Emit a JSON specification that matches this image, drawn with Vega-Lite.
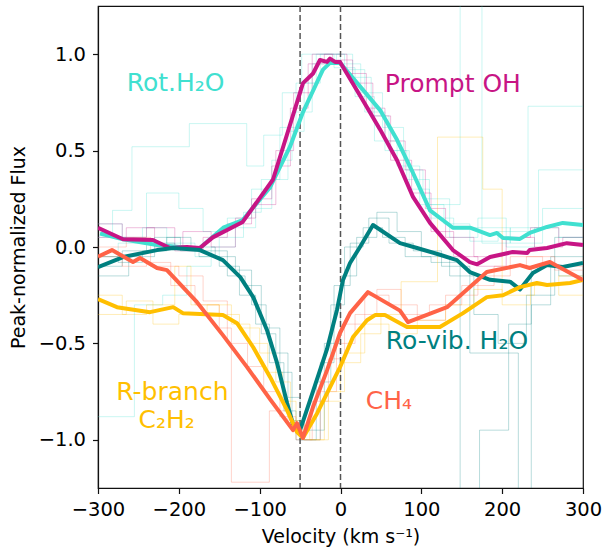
{
  "$schema": "https://vega.github.io/schema/vega-lite/v6.json",
  "width": 485,
  "height": 482,
  "autosize": {"type": "none"},
  "padding": {"left": 98, "top": 6, "right": 20, "bottom": 64},
  "config": {
    "font": "DejaVu Sans",
    "view": {"stroke": "#111111", "strokeWidth": 1.2},
    "axis": {
      "grid": false,
      "labelFont": "DejaVu Sans",
      "labelFontSize": 19.5,
      "labelColor": "#000000",
      "labelFlush": false,
      "labelOverlap": false,
      "titleFont": "DejaVu Sans",
      "titleFontSize": 19,
      "titleFontWeight": "normal",
      "titleColor": "#000000",
      "tickColor": "#111111",
      "tickSize": 5.5,
      "tickWidth": 1.2,
      "domainColor": "#111111",
      "domainWidth": 1.2
    }
  },
  "datasets": {
    "bold": [
      {"g": "rot", "v": -297.5, "f": 0.07},
      {"g": "rot", "v": -269, "f": 0.04},
      {"g": "rot", "v": -227, "f": 0.01},
      {"g": "rot", "v": -186, "f": -0.005},
      {"g": "rot", "v": -174, "f": -0.005},
      {"g": "rot", "v": -145, "f": 0.10},
      {"g": "rot", "v": -121, "f": 0.14},
      {"g": "rot", "v": -87, "f": 0.31},
      {"g": "rot", "v": -62.5, "f": 0.52},
      {"g": "rot", "v": -46.4, "f": 0.70},
      {"g": "rot", "v": -21.7, "f": 0.92},
      {"g": "rot", "v": -13, "f": 0.955},
      {"g": "rot", "v": -0.6, "f": 0.955},
      {"g": "rot", "v": 27.8, "f": 0.815},
      {"g": "rot", "v": 48.9, "f": 0.71},
      {"g": "rot", "v": 69.9, "f": 0.556},
      {"g": "rot", "v": 89.7, "f": 0.384},
      {"g": "rot", "v": 110.7, "f": 0.19},
      {"g": "rot", "v": 139, "f": 0.10},
      {"g": "rot", "v": 160.2, "f": 0.10},
      {"g": "rot", "v": 184.9, "f": 0.062},
      {"g": "rot", "v": 193.6, "f": 0.073},
      {"g": "rot", "v": 201, "f": 0.047},
      {"g": "rot", "v": 222, "f": 0.042},
      {"g": "rot", "v": 234, "f": 0.073},
      {"g": "rot", "v": 255.5, "f": 0.104},
      {"g": "rot", "v": 275, "f": 0.125},
      {"g": "rot", "v": 300, "f": 0.114},
      {"g": "oh", "v": -300, "f": 0.10},
      {"g": "oh", "v": -269, "f": 0.04},
      {"g": "oh", "v": -232, "f": 0.036},
      {"g": "oh", "v": -211, "f": -0.005},
      {"g": "oh", "v": -190, "f": 0.0},
      {"g": "oh", "v": -174, "f": -0.005},
      {"g": "oh", "v": -158, "f": 0.05},
      {"g": "oh", "v": -121, "f": 0.13},
      {"g": "oh", "v": -83.5, "f": 0.35},
      {"g": "oh", "v": -46.4, "f": 0.85},
      {"g": "oh", "v": -34, "f": 0.90},
      {"g": "oh", "v": -25.4, "f": 0.97},
      {"g": "oh", "v": -16.7, "f": 0.96},
      {"g": "oh", "v": -13, "f": 0.977},
      {"g": "oh", "v": -6.8, "f": 0.96},
      {"g": "oh", "v": -0.6, "f": 0.96},
      {"g": "oh", "v": 27.8, "f": 0.76},
      {"g": "oh", "v": 48.9, "f": 0.61},
      {"g": "oh", "v": 69.9, "f": 0.45},
      {"g": "oh", "v": 89.7, "f": 0.26},
      {"g": "oh", "v": 110.7, "f": 0.125},
      {"g": "oh", "v": 139, "f": -0.016},
      {"g": "oh", "v": 160, "f": -0.078},
      {"g": "oh", "v": 169, "f": -0.09},
      {"g": "oh", "v": 185, "f": -0.052},
      {"g": "oh", "v": 213, "f": -0.026},
      {"g": "oh", "v": 231, "f": -0.031},
      {"g": "oh", "v": 234, "f": -0.016},
      {"g": "oh", "v": 255.5, "f": -0.005},
      {"g": "oh", "v": 280, "f": 0.02},
      {"g": "oh", "v": 300, "f": 0.01},
      {"g": "rovib", "v": -300, "f": -0.104},
      {"g": "rovib", "v": -269, "f": -0.052},
      {"g": "rovib", "v": -227, "f": -0.016},
      {"g": "rovib", "v": -207, "f": -0.005},
      {"g": "rovib", "v": -174, "f": -0.016},
      {"g": "rovib", "v": -145.5, "f": -0.068},
      {"g": "rovib", "v": -124, "f": -0.156},
      {"g": "rovib", "v": -108, "f": -0.26},
      {"g": "rovib", "v": -91, "f": -0.43},
      {"g": "rovib", "v": -78.6, "f": -0.60},
      {"g": "rovib", "v": -66, "f": -0.81},
      {"g": "rovib", "v": -59, "f": -0.916},
      {"g": "rovib", "v": -50, "f": -0.95},
      {"g": "rovib", "v": -37.7, "f": -0.795},
      {"g": "rovib", "v": -16.7, "f": -0.53},
      {"g": "rovib", "v": -4.3, "f": -0.325},
      {"g": "rovib", "v": 3.1, "f": -0.171},
      {"g": "rovib", "v": 11.8, "f": -0.083},
      {"g": "rovib", "v": 24.1, "f": 0.0},
      {"g": "rovib", "v": 40.2, "f": 0.114},
      {"g": "rovib", "v": 73.6, "f": 0.02},
      {"g": "rovib", "v": 94.6, "f": -0.005},
      {"g": "rovib", "v": 123, "f": -0.04},
      {"g": "rovib", "v": 144, "f": -0.068},
      {"g": "rovib", "v": 160, "f": -0.13},
      {"g": "rovib", "v": 185, "f": -0.17},
      {"g": "rovib", "v": 209.7, "f": -0.18},
      {"g": "rovib", "v": 222, "f": -0.22},
      {"g": "rovib", "v": 238, "f": -0.135},
      {"g": "rovib", "v": 255.5, "f": -0.094},
      {"g": "rovib", "v": 275, "f": -0.104},
      {"g": "rovib", "v": 300, "f": -0.083},
      {"g": "c2h2", "v": -300, "f": -0.27},
      {"g": "c2h2", "v": -276.5, "f": -0.312},
      {"g": "c2h2", "v": -235.7, "f": -0.338},
      {"g": "c2h2", "v": -207, "f": -0.312},
      {"g": "c2h2", "v": -195, "f": -0.343},
      {"g": "c2h2", "v": -145.5, "f": -0.353},
      {"g": "c2h2", "v": -128, "f": -0.395},
      {"g": "c2h2", "v": -108, "f": -0.52},
      {"g": "c2h2", "v": -87, "f": -0.675},
      {"g": "c2h2", "v": -66, "f": -0.847},
      {"g": "c2h2", "v": -53.8, "f": -0.96},
      {"g": "c2h2", "v": -46.4, "f": -0.99},
      {"g": "c2h2", "v": -29, "f": -0.863},
      {"g": "c2h2", "v": -0.6, "f": -0.623},
      {"g": "c2h2", "v": 15.5, "f": -0.467},
      {"g": "c2h2", "v": 32.8, "f": -0.38},
      {"g": "c2h2", "v": 42.7, "f": -0.353},
      {"g": "c2h2", "v": 55, "f": -0.353},
      {"g": "c2h2", "v": 73.6, "f": -0.395},
      {"g": "c2h2", "v": 82.3, "f": -0.415},
      {"g": "c2h2", "v": 123, "f": -0.415},
      {"g": "c2h2", "v": 151.6, "f": -0.343},
      {"g": "c2h2", "v": 181, "f": -0.26},
      {"g": "c2h2", "v": 201, "f": -0.25},
      {"g": "c2h2", "v": 222, "f": -0.208},
      {"g": "c2h2", "v": 243, "f": -0.187},
      {"g": "c2h2", "v": 255.5, "f": -0.197},
      {"g": "c2h2", "v": 284, "f": -0.187},
      {"g": "c2h2", "v": 300, "f": -0.171},
      {"g": "ch4", "v": -300, "f": -0.05},
      {"g": "ch4", "v": -282.7, "f": -0.016},
      {"g": "ch4", "v": -256.7, "f": -0.078},
      {"g": "ch4", "v": -248, "f": -0.057},
      {"g": "ch4", "v": -227, "f": -0.109},
      {"g": "ch4", "v": -214.7, "f": -0.12},
      {"g": "ch4", "v": -177.5, "f": -0.286},
      {"g": "ch4", "v": -145.5, "f": -0.457},
      {"g": "ch4", "v": -115.6, "f": -0.623},
      {"g": "ch4", "v": -87, "f": -0.79},
      {"g": "ch4", "v": -58.8, "f": -0.95},
      {"g": "ch4", "v": -53.8, "f": -0.914},
      {"g": "ch4", "v": -46.4, "f": -0.99},
      {"g": "ch4", "v": -34, "f": -0.83},
      {"g": "ch4", "v": -16.7, "f": -0.64},
      {"g": "ch4", "v": -0.6, "f": -0.446},
      {"g": "ch4", "v": 11.8, "f": -0.343},
      {"g": "ch4", "v": 34, "f": -0.234},
      {"g": "ch4", "v": 73.6, "f": -0.33},
      {"g": "ch4", "v": 83.5, "f": -0.39},
      {"g": "ch4", "v": 131.8, "f": -0.312},
      {"g": "ch4", "v": 181, "f": -0.13},
      {"g": "ch4", "v": 222, "f": -0.094},
      {"g": "ch4", "v": 234, "f": -0.109},
      {"g": "ch4", "v": 259, "f": -0.078},
      {"g": "ch4", "v": 300, "f": -0.171}
    ],
    "faint": [
      {"s": "T1", "g": "rot", "v": -300, "f": 0.05},
      {"s": "T1", "g": "rot", "v": -282, "f": 0.19},
      {"s": "T1", "g": "rot", "v": -258, "f": 0.52},
      {"s": "T1", "g": "rot", "v": -187, "f": 0.64},
      {"s": "T1", "g": "rot", "v": -116, "f": 0.42},
      {"s": "T1", "g": "rot", "v": -95, "f": 0.58},
      {"s": "T1", "g": "rot", "v": -72, "f": 0.80},
      {"s": "T1", "g": "rot", "v": -48, "f": 1.0},
      {"s": "T1", "g": "rot", "v": -8, "f": 0.93},
      {"s": "T1", "g": "rot", "v": 18, "f": 0.78},
      {"s": "T1", "g": "rot", "v": 42, "f": 0.55},
      {"s": "T1", "g": "rot", "v": 70, "f": 0.42},
      {"s": "T1", "g": "rot", "v": 98, "f": 0.22},
      {"s": "T1", "g": "rot", "v": 128, "f": 0.12},
      {"s": "T1", "g": "rot", "v": 160, "f": 0.03},
      {"s": "T1", "g": "rot", "v": 195, "f": 0.08},
      {"s": "T1", "g": "rot", "v": 232, "f": 0.73},
      {"s": "T1", "g": "rot", "v": 300, "f": 0.73},
      {"s": "T2", "g": "rot", "v": -300, "f": 0.12},
      {"s": "T2", "g": "rot", "v": -270, "f": 0.05},
      {"s": "T2", "g": "rot", "v": -240, "f": 0.28},
      {"s": "T2", "g": "rot", "v": -200, "f": 0.20},
      {"s": "T2", "g": "rot", "v": -170, "f": 0.08},
      {"s": "T2", "g": "rot", "v": -140, "f": 0.15},
      {"s": "T2", "g": "rot", "v": -110, "f": 0.30},
      {"s": "T2", "g": "rot", "v": -85, "f": 0.45},
      {"s": "T2", "g": "rot", "v": -60, "f": 0.70},
      {"s": "T2", "g": "rot", "v": -35, "f": 0.95},
      {"s": "T2", "g": "rot", "v": -5, "f": 1.0},
      {"s": "T2", "g": "rot", "v": 15, "f": 0.88},
      {"s": "T2", "g": "rot", "v": 38, "f": 0.68},
      {"s": "T2", "g": "rot", "v": 60, "f": 0.50},
      {"s": "T2", "g": "rot", "v": 85, "f": 0.30},
      {"s": "T2", "g": "rot", "v": 110, "f": 0.22},
      {"s": "T2", "g": "rot", "v": 148, "f": 1.3},
      {"s": "T2", "g": "rot", "v": 175, "f": 0.10},
      {"s": "T2", "g": "rot", "v": 210, "f": 0.02},
      {"s": "T2", "g": "rot", "v": 250, "f": 0.20},
      {"s": "T2", "g": "rot", "v": 300, "f": 0.20},
      {"s": "T3", "g": "rot", "v": -300, "f": -0.05},
      {"s": "T3", "g": "rot", "v": -275, "f": 0.02},
      {"s": "T3", "g": "rot", "v": -245, "f": 0.10},
      {"s": "T3", "g": "rot", "v": -215, "f": 0.02},
      {"s": "T3", "g": "rot", "v": -180, "f": -0.05},
      {"s": "T3", "g": "rot", "v": -150, "f": 0.05},
      {"s": "T3", "g": "rot", "v": -120, "f": 0.18},
      {"s": "T3", "g": "rot", "v": -98, "f": 0.35},
      {"s": "T3", "g": "rot", "v": -75, "f": 0.62},
      {"s": "T3", "g": "rot", "v": -55, "f": 0.85},
      {"s": "T3", "g": "rot", "v": -30, "f": 1.0},
      {"s": "T3", "g": "rot", "v": 0, "f": 0.95},
      {"s": "T3", "g": "rot", "v": 25, "f": 0.80},
      {"s": "T3", "g": "rot", "v": 52, "f": 0.62},
      {"s": "T3", "g": "rot", "v": 78, "f": 0.40},
      {"s": "T3", "g": "rot", "v": 102, "f": 0.25},
      {"s": "T3", "g": "rot", "v": 135, "f": 0.05},
      {"s": "T3", "g": "rot", "v": 170, "f": 0.15},
      {"s": "T3", "g": "rot", "v": 205, "f": 0.00},
      {"s": "T3", "g": "rot", "v": 240, "f": 0.10},
      {"s": "T3", "g": "rot", "v": 270, "f": 0.05},
      {"s": "T3", "g": "rot", "v": 300, "f": 0.05},
      {"s": "T4", "g": "rot", "v": -300, "f": -0.88},
      {"s": "T4", "g": "rot", "v": -255, "f": -0.30},
      {"s": "T4", "g": "rot", "v": -220, "f": -0.25},
      {"s": "T4", "g": "rot", "v": -190, "f": -0.10},
      {"s": "T4", "g": "rot", "v": -160, "f": 0.00},
      {"s": "T4", "g": "rot", "v": -130, "f": 0.10},
      {"s": "T4", "g": "rot", "v": -105, "f": 0.20},
      {"s": "T4", "g": "rot", "v": -85, "f": 0.35},
      {"s": "T4", "g": "rot", "v": -65, "f": 0.60},
      {"s": "T4", "g": "rot", "v": -45, "f": 0.85},
      {"s": "T4", "g": "rot", "v": -25, "f": 1.0},
      {"s": "T4", "g": "rot", "v": 5, "f": 0.92},
      {"s": "T4", "g": "rot", "v": 30, "f": 0.70},
      {"s": "T4", "g": "rot", "v": 55, "f": 0.50},
      {"s": "T4", "g": "rot", "v": 82, "f": 0.35},
      {"s": "T4", "g": "rot", "v": 110, "f": 0.15},
      {"s": "T4", "g": "rot", "v": 140, "f": 0.10},
      {"s": "T4", "g": "rot", "v": 175, "f": 0.02},
      {"s": "T4", "g": "rot", "v": 210, "f": 0.10},
      {"s": "T4", "g": "rot", "v": 245, "f": 0.40},
      {"s": "T4", "g": "rot", "v": 300, "f": 0.40},
      {"s": "M1", "g": "oh", "v": -300, "f": 0.12},
      {"s": "M1", "g": "oh", "v": -270, "f": 0.05},
      {"s": "M1", "g": "oh", "v": -240, "f": 0.10},
      {"s": "M1", "g": "oh", "v": -205, "f": -0.02},
      {"s": "M1", "g": "oh", "v": -170, "f": 0.05},
      {"s": "M1", "g": "oh", "v": -140, "f": 0.12},
      {"s": "M1", "g": "oh", "v": -110, "f": 0.25},
      {"s": "M1", "g": "oh", "v": -85, "f": 0.42},
      {"s": "M1", "g": "oh", "v": -62, "f": 0.72},
      {"s": "M1", "g": "oh", "v": -40, "f": 0.95},
      {"s": "M1", "g": "oh", "v": -20, "f": 1.0},
      {"s": "M1", "g": "oh", "v": 8, "f": 0.90},
      {"s": "M1", "g": "oh", "v": 32, "f": 0.72},
      {"s": "M1", "g": "oh", "v": 55, "f": 0.55},
      {"s": "M1", "g": "oh", "v": 80, "f": 0.40},
      {"s": "M1", "g": "oh", "v": 105, "f": 0.20},
      {"s": "M1", "g": "oh", "v": 130, "f": 0.05},
      {"s": "M1", "g": "oh", "v": 165, "f": -0.05},
      {"s": "M1", "g": "oh", "v": 200, "f": 0.05},
      {"s": "M1", "g": "oh", "v": 240, "f": 0.00},
      {"s": "M1", "g": "oh", "v": 275, "f": 0.05},
      {"s": "M1", "g": "oh", "v": 300, "f": 0.05},
      {"s": "M2", "g": "oh", "v": -300, "f": 0.05},
      {"s": "M2", "g": "oh", "v": -265, "f": 0.10},
      {"s": "M2", "g": "oh", "v": -230, "f": 0.00},
      {"s": "M2", "g": "oh", "v": -195, "f": 0.08},
      {"s": "M2", "g": "oh", "v": -160, "f": 0.00},
      {"s": "M2", "g": "oh", "v": -130, "f": 0.15},
      {"s": "M2", "g": "oh", "v": -105, "f": 0.22},
      {"s": "M2", "g": "oh", "v": -80, "f": 0.50},
      {"s": "M2", "g": "oh", "v": -58, "f": 0.80},
      {"s": "M2", "g": "oh", "v": -35, "f": 1.0},
      {"s": "M2", "g": "oh", "v": -10, "f": 0.97},
      {"s": "M2", "g": "oh", "v": 15, "f": 0.85},
      {"s": "M2", "g": "oh", "v": 40, "f": 0.68},
      {"s": "M2", "g": "oh", "v": 62, "f": 0.45},
      {"s": "M2", "g": "oh", "v": 88, "f": 0.28},
      {"s": "M2", "g": "oh", "v": 112, "f": 0.08},
      {"s": "M2", "g": "oh", "v": 140, "f": -0.05},
      {"s": "M2", "g": "oh", "v": 170, "f": -0.10},
      {"s": "M2", "g": "oh", "v": 205, "f": 0.05},
      {"s": "M2", "g": "oh", "v": 235, "f": 0.10},
      {"s": "M2", "g": "oh", "v": 270, "f": 0.02},
      {"s": "M2", "g": "oh", "v": 300, "f": 0.02},
      {"s": "D1", "g": "rovib", "v": -300, "f": -0.10},
      {"s": "D1", "g": "rovib", "v": -270, "f": -0.02},
      {"s": "D1", "g": "rovib", "v": -240, "f": 0.02},
      {"s": "D1", "g": "rovib", "v": -205, "f": 0.00},
      {"s": "D1", "g": "rovib", "v": -175, "f": -0.05},
      {"s": "D1", "g": "rovib", "v": -150, "f": -0.10},
      {"s": "D1", "g": "rovib", "v": -125, "f": -0.25},
      {"s": "D1", "g": "rovib", "v": -105, "f": -0.40},
      {"s": "D1", "g": "rovib", "v": -88, "f": -0.60},
      {"s": "D1", "g": "rovib", "v": -70, "f": -0.85},
      {"s": "D1", "g": "rovib", "v": -55, "f": -1.0},
      {"s": "D1", "g": "rovib", "v": -30, "f": -0.70},
      {"s": "D1", "g": "rovib", "v": -12, "f": -0.30},
      {"s": "D1", "g": "rovib", "v": 5, "f": 0.00},
      {"s": "D1", "g": "rovib", "v": 28, "f": 0.10},
      {"s": "D1", "g": "rovib", "v": 52, "f": 0.05},
      {"s": "D1", "g": "rovib", "v": 80, "f": -0.05},
      {"s": "D1", "g": "rovib", "v": 112, "f": -0.08},
      {"s": "D1", "g": "rovib", "v": 148, "f": -1.3},
      {"s": "D1", "g": "rovib", "v": 172, "f": -0.95},
      {"s": "D1", "g": "rovib", "v": 208, "f": -0.40},
      {"s": "D1", "g": "rovib", "v": 236, "f": -0.10},
      {"s": "D1", "g": "rovib", "v": 270, "f": -0.15},
      {"s": "D1", "g": "rovib", "v": 300, "f": -0.15},
      {"s": "D2", "g": "rovib", "v": -300, "f": -0.15},
      {"s": "D2", "g": "rovib", "v": -262, "f": -0.05},
      {"s": "D2", "g": "rovib", "v": -230, "f": 0.05},
      {"s": "D2", "g": "rovib", "v": -198, "f": -0.02},
      {"s": "D2", "g": "rovib", "v": -165, "f": -0.02},
      {"s": "D2", "g": "rovib", "v": -140, "f": -0.15},
      {"s": "D2", "g": "rovib", "v": -118, "f": -0.20},
      {"s": "D2", "g": "rovib", "v": -98, "f": -0.45},
      {"s": "D2", "g": "rovib", "v": -80, "f": -0.55},
      {"s": "D2", "g": "rovib", "v": -65, "f": -0.78},
      {"s": "D2", "g": "rovib", "v": -50, "f": -1.0},
      {"s": "D2", "g": "rovib", "v": -25, "f": -0.60},
      {"s": "D2", "g": "rovib", "v": -8, "f": -0.20},
      {"s": "D2", "g": "rovib", "v": 12, "f": 0.02},
      {"s": "D2", "g": "rovib", "v": 35, "f": 0.15},
      {"s": "D2", "g": "rovib", "v": 60, "f": 0.02},
      {"s": "D2", "g": "rovib", "v": 90, "f": -0.02},
      {"s": "D2", "g": "rovib", "v": 125, "f": -0.10},
      {"s": "D2", "g": "rovib", "v": 160, "f": -0.55},
      {"s": "D2", "g": "rovib", "v": 220, "f": -1.3},
      {"s": "D2", "g": "rovib", "v": 236, "f": -0.30},
      {"s": "D2", "g": "rovib", "v": 260, "f": -0.05},
      {"s": "D2", "g": "rovib", "v": 300, "f": -0.05},
      {"s": "D3", "g": "rovib", "v": -300, "f": -0.05},
      {"s": "D3", "g": "rovib", "v": -275, "f": -0.08},
      {"s": "D3", "g": "rovib", "v": -245, "f": -0.02},
      {"s": "D3", "g": "rovib", "v": -215, "f": 0.05},
      {"s": "D3", "g": "rovib", "v": -185, "f": 0.00},
      {"s": "D3", "g": "rovib", "v": -155, "f": -0.05},
      {"s": "D3", "g": "rovib", "v": -130, "f": -0.12},
      {"s": "D3", "g": "rovib", "v": -110, "f": -0.30},
      {"s": "D3", "g": "rovib", "v": -92, "f": -0.42},
      {"s": "D3", "g": "rovib", "v": -75, "f": -0.65},
      {"s": "D3", "g": "rovib", "v": -60, "f": -0.90},
      {"s": "D3", "g": "rovib", "v": -45, "f": -0.95},
      {"s": "D3", "g": "rovib", "v": -20, "f": -0.50},
      {"s": "D3", "g": "rovib", "v": 0, "f": -0.15},
      {"s": "D3", "g": "rovib", "v": 20, "f": 0.05},
      {"s": "D3", "g": "rovib", "v": 45, "f": 0.18},
      {"s": "D3", "g": "rovib", "v": 70, "f": 0.08},
      {"s": "D3", "g": "rovib", "v": 100, "f": -0.05},
      {"s": "D3", "g": "rovib", "v": 135, "f": -0.15},
      {"s": "D3", "g": "rovib", "v": 165, "f": -0.35},
      {"s": "D3", "g": "rovib", "v": 195, "f": -0.50},
      {"s": "D3", "g": "rovib", "v": 230, "f": -0.25},
      {"s": "D3", "g": "rovib", "v": 265, "f": 0.05},
      {"s": "D3", "g": "rovib", "v": 300, "f": 0.05},
      {"s": "R1", "g": "ch4", "v": -300, "f": -0.05},
      {"s": "R1", "g": "ch4", "v": -270, "f": -0.10},
      {"s": "R1", "g": "ch4", "v": -240, "f": -0.08},
      {"s": "R1", "g": "ch4", "v": -210, "f": -0.20},
      {"s": "R1", "g": "ch4", "v": -180, "f": -0.30},
      {"s": "R1", "g": "ch4", "v": -150, "f": -0.42},
      {"s": "R1", "g": "ch4", "v": -135, "f": -1.22},
      {"s": "R1", "g": "ch4", "v": -88, "f": -0.85},
      {"s": "R1", "g": "ch4", "v": -65, "f": -0.92},
      {"s": "R1", "g": "ch4", "v": -45, "f": -1.0},
      {"s": "R1", "g": "ch4", "v": -25, "f": -0.75},
      {"s": "R1", "g": "ch4", "v": -5, "f": -0.50},
      {"s": "R1", "g": "ch4", "v": 18, "f": -0.35},
      {"s": "R1", "g": "ch4", "v": 45, "f": -0.22},
      {"s": "R1", "g": "ch4", "v": 75, "f": -0.35},
      {"s": "R1", "g": "ch4", "v": 110, "f": -0.30},
      {"s": "R1", "g": "ch4", "v": 150, "f": -0.20},
      {"s": "R1", "g": "ch4", "v": 190, "f": -0.10},
      {"s": "R1", "g": "ch4", "v": 230, "f": -0.05},
      {"s": "R1", "g": "ch4", "v": 265, "f": -0.12},
      {"s": "R1", "g": "ch4", "v": 300, "f": -0.12},
      {"s": "R2", "g": "ch4", "v": -300, "f": 0.00},
      {"s": "R2", "g": "ch4", "v": -265, "f": 0.05},
      {"s": "R2", "g": "ch4", "v": -235, "f": -0.10},
      {"s": "R2", "g": "ch4", "v": -200, "f": -0.15},
      {"s": "R2", "g": "ch4", "v": -170, "f": -0.28},
      {"s": "R2", "g": "ch4", "v": -140, "f": -0.50},
      {"s": "R2", "g": "ch4", "v": -115, "f": -0.62},
      {"s": "R2", "g": "ch4", "v": -95, "f": -0.75},
      {"s": "R2", "g": "ch4", "v": -75, "f": -0.88},
      {"s": "R2", "g": "ch4", "v": -55, "f": -1.0},
      {"s": "R2", "g": "ch4", "v": -35, "f": -0.80},
      {"s": "R2", "g": "ch4", "v": -15, "f": -0.58},
      {"s": "R2", "g": "ch4", "v": 5, "f": -0.40},
      {"s": "R2", "g": "ch4", "v": 30, "f": -0.25},
      {"s": "R2", "g": "ch4", "v": 60, "f": -0.30},
      {"s": "R2", "g": "ch4", "v": 95, "f": -0.38},
      {"s": "R2", "g": "ch4", "v": 130, "f": -0.25},
      {"s": "R2", "g": "ch4", "v": 170, "f": -0.15},
      {"s": "R2", "g": "ch4", "v": 210, "f": -0.05},
      {"s": "R2", "g": "ch4", "v": 250, "f": -0.10},
      {"s": "R2", "g": "ch4", "v": 300, "f": -0.10},
      {"s": "G1", "g": "c2h2", "v": -300, "f": -0.25},
      {"s": "G1", "g": "c2h2", "v": -270, "f": -0.35},
      {"s": "G1", "g": "c2h2", "v": -240, "f": -0.30},
      {"s": "G1", "g": "c2h2", "v": -205, "f": -0.10},
      {"s": "G1", "g": "c2h2", "v": -185, "f": -0.30},
      {"s": "G1", "g": "c2h2", "v": -150, "f": -0.35},
      {"s": "G1", "g": "c2h2", "v": -125, "f": -0.42},
      {"s": "G1", "g": "c2h2", "v": -100, "f": -0.55},
      {"s": "G1", "g": "c2h2", "v": -80, "f": -0.70},
      {"s": "G1", "g": "c2h2", "v": -62, "f": -0.90},
      {"s": "G1", "g": "c2h2", "v": -45, "f": -1.0},
      {"s": "G1", "g": "c2h2", "v": -20, "f": -0.80},
      {"s": "G1", "g": "c2h2", "v": 0, "f": -0.60},
      {"s": "G1", "g": "c2h2", "v": 25, "f": -0.45},
      {"s": "G1", "g": "c2h2", "v": 50, "f": -0.35},
      {"s": "G1", "g": "c2h2", "v": 75, "f": -0.18},
      {"s": "G1", "g": "c2h2", "v": 120, "f": 0.57},
      {"s": "G1", "g": "c2h2", "v": 176, "f": 0.30},
      {"s": "G1", "g": "c2h2", "v": 200, "f": -0.25},
      {"s": "G1", "g": "c2h2", "v": 240, "f": -0.20},
      {"s": "G1", "g": "c2h2", "v": 270, "f": -0.15},
      {"s": "G1", "g": "c2h2", "v": 300, "f": -0.15},
      {"s": "G2", "g": "c2h2", "v": -300, "f": -0.35},
      {"s": "G2", "g": "c2h2", "v": -265, "f": -0.28},
      {"s": "G2", "g": "c2h2", "v": -232, "f": -0.40},
      {"s": "G2", "g": "c2h2", "v": -200, "f": -0.35},
      {"s": "G2", "g": "c2h2", "v": -165, "f": -0.30},
      {"s": "G2", "g": "c2h2", "v": -135, "f": -0.40},
      {"s": "G2", "g": "c2h2", "v": -112, "f": -0.50},
      {"s": "G2", "g": "c2h2", "v": -90, "f": -0.65},
      {"s": "G2", "g": "c2h2", "v": -72, "f": -0.80},
      {"s": "G2", "g": "c2h2", "v": -55, "f": -0.95},
      {"s": "G2", "g": "c2h2", "v": -38, "f": -1.0},
      {"s": "G2", "g": "c2h2", "v": -15, "f": -0.75},
      {"s": "G2", "g": "c2h2", "v": 5, "f": -0.55},
      {"s": "G2", "g": "c2h2", "v": 30, "f": -0.40},
      {"s": "G2", "g": "c2h2", "v": 60, "f": -0.45},
      {"s": "G2", "g": "c2h2", "v": 95, "f": -0.38},
      {"s": "G2", "g": "c2h2", "v": 130, "f": -0.30},
      {"s": "G2", "g": "c2h2", "v": 165, "f": -0.22},
      {"s": "G2", "g": "c2h2", "v": 200, "f": -0.30},
      {"s": "G2", "g": "c2h2", "v": 235, "f": -0.20},
      {"s": "G2", "g": "c2h2", "v": 270, "f": -0.25},
      {"s": "G2", "g": "c2h2", "v": 300, "f": -0.25}
    ],
    "labels": [
      {"g": "rot", "t": "Rot.H₂O", "v": -204, "f": 0.85},
      {"g": "oh", "t": "Prompt OH", "v": 139, "f": 0.847},
      {"g": "rovib", "t": "Ro-vib. H₂O", "v": 144, "f": -0.49},
      {"g": "ch4", "t": "CH₄", "v": 60, "f": -0.80},
      {"g": "c2h2", "t": "R-branch", "v": -208, "f": -0.75},
      {"g": "c2h2", "t": "C₂H₂", "v": -215, "f": -0.895}
    ],
    "vlines": [{"v": -50}, {"v": 0}]
  },
  "layer": [
    {
      "data": {"name": "faint"},
      "mark": {"type": "line", "interpolate": "step-after", "strokeWidth": 1, "opacity": 0.28, "clip": true},
      "encoding": {
        "x": {"field": "v", "type": "quantitative", "scale": {"domain": [-300, 300], "nice": false}, "axis": {"values": [-300, -200, -100, 0, 100, 200, 300], "format": "d", "title": "Velocity (km s⁻¹)", "labelPadding": 7, "titlePadding": 8}},
        "y": {"field": "f", "type": "quantitative", "scale": {"domain": [-1.25, 1.25], "nice": false}, "axis": {"values": [-1, -0.5, 0, 0.5, 1], "format": ".1f", "title": "Peak-normalized Flux", "labelPadding": 7, "titlePadding": 10}},
        "color": {"field": "g", "type": "nominal", "legend": null, "scale": {"domain": ["rot", "oh", "rovib", "c2h2", "ch4"], "range": ["#40E0D0", "#C71585", "#008080", "#FFBF00", "#FF6347"]}},
        "detail": {"field": "s", "type": "nominal"}
      }
    },
    {
      "data": {"name": "vlines"},
      "mark": {"type": "rule", "color": "#555555", "strokeWidth": 1.5, "strokeDash": [6, 3]},
      "encoding": {"x": {"field": "v", "type": "quantitative"}}
    },
    {
      "data": {"name": "bold"},
      "mark": {"type": "line", "strokeWidth": 4, "clip": true, "strokeJoin": "round"},
      "encoding": {
        "x": {"field": "v", "type": "quantitative"},
        "y": {"field": "f", "type": "quantitative"},
        "color": {"field": "g", "type": "nominal", "legend": null}
      }
    },
    {
      "data": {"name": "labels"},
      "mark": {"type": "text", "fontSize": 25, "font": "DejaVu Sans", "align": "center", "baseline": "middle"},
      "encoding": {
        "x": {"field": "v", "type": "quantitative"},
        "y": {"field": "f", "type": "quantitative"},
        "text": {"field": "t"},
        "color": {"field": "g", "type": "nominal", "legend": null}
      }
    }
  ]
}
